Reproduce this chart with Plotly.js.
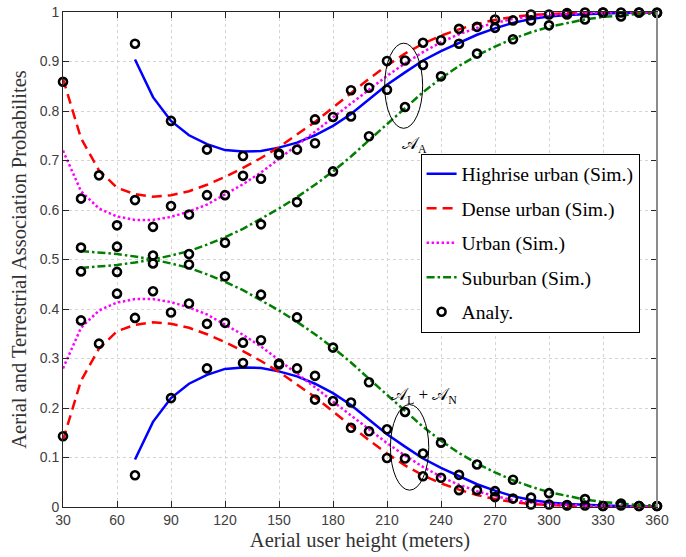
<!DOCTYPE html>
<html><head><meta charset="utf-8">
<script src="https://cdn.plot.ly/plotly-3.0.1.min.js"></script>
<style>html,body{margin:0;padding:0;background:#fff}#chart{width:686px;height:557px}</style>
</head><body><div id="chart"></div>
<script>
// ---- Simulation curves (x in meters) ----
const hrSimX = [70,80,90,100,110,120,130,140,150,160,170,180,190,200,210,220,230,240,250,260,270,280,290,300,310,320,330,340,350,360];
const hrSimA = [0.904,0.828,0.78,0.751,0.733,0.721,0.718,0.719,0.726,0.736,0.751,0.77,0.794,0.823,0.853,0.878,0.902,0.921,0.938,0.954,0.967,0.978,0.986,0.991,0.994,0.996,0.997,0.998,0.999,0.999];
const hrSimT = [0.096,0.172,0.22,0.249,0.267,0.279,0.282,0.281,0.274,0.264,0.249,0.23,0.206,0.177,0.147,0.122,0.098,0.079,0.062,0.046,0.033,0.022,0.014,0.009,0.006,0.004,0.003,0.002,0.001,0.001];

const duSimX = [30,40,50,60,70,80,90,100,110,120,130,140,150,160,170,180,190,200,210,220,230,240,250,260,270,280,290,300,310,320,330,340,350,360];
const duSimA = [0.865,0.745,0.68,0.645,0.632,0.627,0.63,0.638,0.651,0.667,0.685,0.705,0.727,0.752,0.778,0.807,0.836,0.865,0.892,0.916,0.936,0.952,0.965,0.976,0.984,0.99,0.994,0.996,0.998,0.999,0.999,1,1,1];
const duSimT = [0.135,0.255,0.32,0.355,0.368,0.373,0.37,0.362,0.349,0.333,0.315,0.295,0.273,0.248,0.222,0.193,0.164,0.135,0.108,0.084,0.064,0.048,0.035,0.024,0.016,0.01,0.006,0.004,0.002,0.001,0.001,0,0,0];

const urSimX = [30,40,50,60,70,80,90,100,110,120,130,140,150,160,170,180,190,200,210,220,230,240,250,260,270,280,290,300,310,320,330,340,350,360];
const urSimA = [0.72,0.638,0.603,0.587,0.58,0.58,0.586,0.597,0.611,0.632,0.652,0.676,0.703,0.73,0.758,0.787,0.815,0.844,0.871,0.896,0.919,0.939,0.955,0.968,0.978,0.986,0.991,0.994,0.996,0.998,0.999,0.999,1,1];
const urSimT = [0.28,0.362,0.397,0.413,0.42,0.42,0.414,0.403,0.389,0.368,0.348,0.324,0.297,0.27,0.242,0.213,0.185,0.156,0.129,0.104,0.081,0.061,0.045,0.032,0.022,0.014,0.009,0.006,0.004,0.002,0.001,0.001,0,0];

const suSimX = [40,50,60,70,80,90,100,110,120,130,140,150,160,170,180,190,200,210,220,230,240,250,260,270,280,290,300,310,320,330,340,350,360];
const suSimA = [0.483,0.486,0.489,0.494,0.5,0.508,0.517,0.53,0.545,0.562,0.582,0.603,0.626,0.651,0.678,0.708,0.741,0.774,0.807,0.838,0.866,0.891,0.912,0.93,0.946,0.959,0.97,0.978,0.985,0.99,0.993,0.996,0.997];
const suSimT = [0.517,0.514,0.511,0.506,0.5,0.492,0.483,0.47,0.455,0.438,0.418,0.397,0.374,0.349,0.322,0.292,0.259,0.226,0.193,0.162,0.134,0.109,0.088,0.07,0.054,0.041,0.03,0.022,0.015,0.01,0.007,0.004,0.003];

// ---- Analytical points ----
const hrAnX = [70,90,110,130,150,170,190,210,230,250,270,290,310,330,350];
const hrAnA = [0.936,0.780,0.722,0.709,0.714,0.735,0.789,0.843,0.893,0.936,0.968,0.983,0.995,0.999,0.999];
const hrAnT = [0.064,0.220,0.280,0.291,0.288,0.265,0.211,0.157,0.108,0.065,0.032,0.019,0.004,0.002,0.002];

const duAnX = [30,50,70,90,110,130,150,170,190,210,230,250,270,290,310,330,350];
const duAnA = [0.859,0.670,0.620,0.608,0.630,0.669,0.712,0.783,0.842,0.901,0.938,0.966,0.985,0.995,0.998,0.999,0.999];
const duAnT = [0.143,0.330,0.382,0.393,0.370,0.332,0.290,0.217,0.160,0.099,0.062,0.034,0.020,0.005,0.003,0.002,0.002];

const urAnX = [40,60,80,100,120,140,160,180,200,220,240,260,280,300,320,340,360];
const urAnA = [0.623,0.569,0.566,0.591,0.630,0.663,0.722,0.788,0.847,0.902,0.943,0.970,0.983,0.995,0.999,0.999,0.999];
const urAnT = [0.377,0.431,0.436,0.411,0.372,0.337,0.280,0.214,0.153,0.098,0.059,0.034,0.017,0.005,0.003,0.003,0.002];

const suAnX = [40,60,80,100,120,140,160,180,200,220,240,260,280,300,320,340,360];
const suAnA = [0.476,0.475,0.508,0.511,0.534,0.571,0.616,0.678,0.749,0.808,0.870,0.916,0.945,0.973,0.985,0.991,0.998];
const suAnT = [0.524,0.526,0.492,0.490,0.466,0.429,0.383,0.322,0.252,0.192,0.130,0.086,0.055,0.028,0.016,0.007,0.002];

const names = ['Highrise urban (Sim.)','Dense urban (Sim.)','Urban (Sim.)','Suburban (Sim.)','Analy.'];
const xTicks = [30,60,90,120,150,180,210,240,270,300,330,360];
const yTicks = [0,0.1,0.2,0.3,0.4,0.5,0.6,0.7,0.8,0.9,1];

function simPair(x, a, t, name, grp, line){
  return [
    {x:x, y:a, type:'scatter', mode:'lines', name:name, legendgroup:grp, line:line, cliponaxis:false},
    {x:x, y:t, type:'scatter', mode:'lines', name:name, legendgroup:grp, line:line, showlegend:false, cliponaxis:false}
  ];
}
const mk = {symbol:'circle-open', size:8, color:'#000', line:{width:2.6, color:'#000'}};
function anTrace(x, a, t, show){
  return {x:x.concat(x), y:a.concat(t), type:'scatter', mode:'markers', name:names[4], legendgroup:'an',
          marker:mk, showlegend:show, cliponaxis:false};
}

const data = [].concat(
  simPair(hrSimX, hrSimA, hrSimT, names[0], 'hr', {color:'#0000ff', width:2.5}),
  simPair(duSimX, duSimA, duSimT, names[1], 'du', {color:'#ff0000', width:2.5, dash:'10px,6px'}),
  simPair(urSimX, urSimA, urSimT, names[2], 'ur', {color:'#ff00ff', width:2.5, dash:'2.5px,2.5px'}),
  simPair(suSimX, suSimA, suSimT, names[3], 'su', {color:'#008000', width:2.5, dash:'8px,3px,2.5px,3px'}),
  [anTrace(hrAnX, hrAnA, hrAnT, true), anTrace(duAnX, duAnA, duAnT, false),
   anTrace(urAnX, urAnA, urAnT, false), anTrace(suAnX, suAnA, suAnT, false)]
);

const serif = 'Liberation Serif, Times New Roman, serif';
const tickFont = {family:'Liberation Sans, Arial, sans-serif', size:14, color:'#404040'};

const layout = {
  width:686, height:557,
  margin:{l:63, r:29, t:12, b:50},
  paper_bgcolor:'#fff', plot_bgcolor:'#fff',
  showlegend:true,
  xaxis:{range:[30,360], tickvals:xTicks, ticktext:xTicks.map(String), ticks:'inside', ticklen:6, tickcolor:'#262626',
         showline:true, linecolor:'#262626', linewidth:1, mirror:'ticks', zeroline:false,
         showgrid:true, gridcolor:'#d4d4d4', griddash:'dot', gridwidth:1,
         tickfont:tickFont,
         title:{text:'Aerial user height (meters)', font:{family:serif, size:20.5, color:'#333'}, standoff:5}},
  yaxis:{range:[0,1], tickvals:yTicks, ticktext:yTicks.map(String), ticks:'inside', ticklen:6, tickcolor:'#262626',
         showline:true, linecolor:'#262626', linewidth:1, mirror:'ticks', zeroline:false,
         showgrid:true, gridcolor:'#d4d4d4', griddash:'dot', gridwidth:1,
         tickfont:tickFont,
         title:{text:'Aerial and Terrestrial Association Probabilites', font:{family:serif, size:20.5, color:'#333'}, standoff:7}},
  legend:{x:0.602, y:0.714, xanchor:'left', yanchor:'top', bgcolor:'#fff', bordercolor:'#000', borderwidth:1,
          font:{family:serif, size:19.6, color:'#000'}, traceorder:'grouped', tracegroupgap:6},
  shapes:[
    {type:'circle', xref:'x', yref:'y', x0:208.7, x1:229.8, y0:0.765, y1:0.937, line:{color:'#000', width:1}},
    {type:'circle', xref:'x', yref:'y', x0:211.9, x1:233.2, y0:0.034, y1:0.207, line:{color:'#000', width:1}},
    {type:'line', xref:'paper', yref:'paper', x0:1, x1:1, y0:0, y1:1, line:{color:'#8c8c8c', width:2}, layer:'above'}
  ],
  annotations:[
    {x:225.4, y:0.731, xref:'x', yref:'y', text:'𝒜<sub>A</sub>', showarrow:false,
     font:{family:serif, size:17, color:'#000'}},
    {x:230.4, y:0.224, xref:'x', yref:'y', text:'𝒜<sub>L</sub> + 𝒜<sub>N</sub>', showarrow:false,
     font:{family:serif, size:17, color:'#000'}}
  ]
};

Plotly.newPlot('chart', data, layout, {displayModeBar:false, responsive:false});
</script>
</body></html>
